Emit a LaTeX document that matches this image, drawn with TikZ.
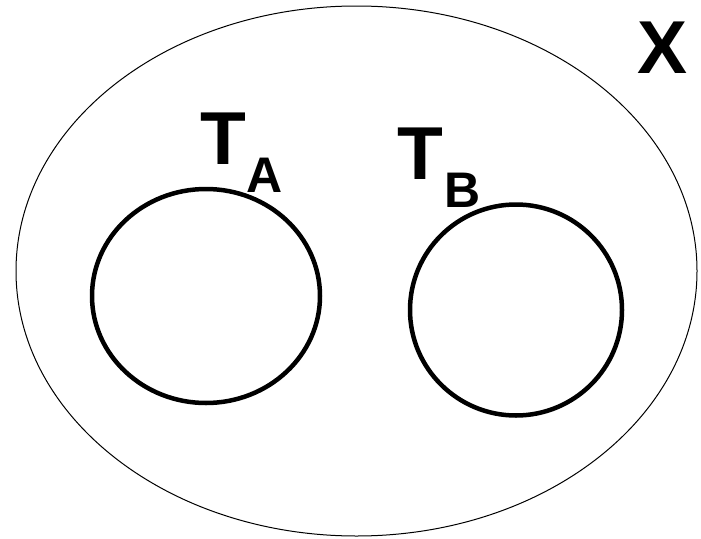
\documentclass[tikz,border=0pt]{standalone}
\usepackage{fontspec}
\setmainfont{Liberation Sans}
\usetikzlibrary{shapes.geometric,positioning}

\begin{document}
\begin{tikzpicture}[
      x=1pt,y=-1pt,
      universe/.style={ellipse,draw,line width=1pt,inner sep=0pt},
      subset/.style={ellipse,draw,line width=4.5pt,inner sep=0pt},
      biglabel/.style={font=\fontsize{75}{75}\selectfont\bfseries,inner sep=0pt,anchor=base west},
      sublabel/.style={font=\fontsize{50}{50}\selectfont\bfseries,inner sep=0pt,anchor=base west}
    ]
    \path[use as bounding box] (0,0) rectangle (701,538);
    \node[universe,minimum width=681,minimum height=530] (X) at (356.5,271) {};
    \node[biglabel] (xlabel) at (637,73) {X};

    \node[subset,minimum width=228,minimum height=214] (TA) at (206,296) {};
    \node[subset,minimum width=212,minimum height=211] (TB) at (516,310) {};

    \node[biglabel] (talabel) at (200,164) {T};
    \node[sublabel] (tasub) at (246,192) {A};
    \node[biglabel] (tblabel) at (397,179) {T};
    \node[sublabel] (tbsub) at (444,207) {B};
  \end{tikzpicture}
\end{document}
